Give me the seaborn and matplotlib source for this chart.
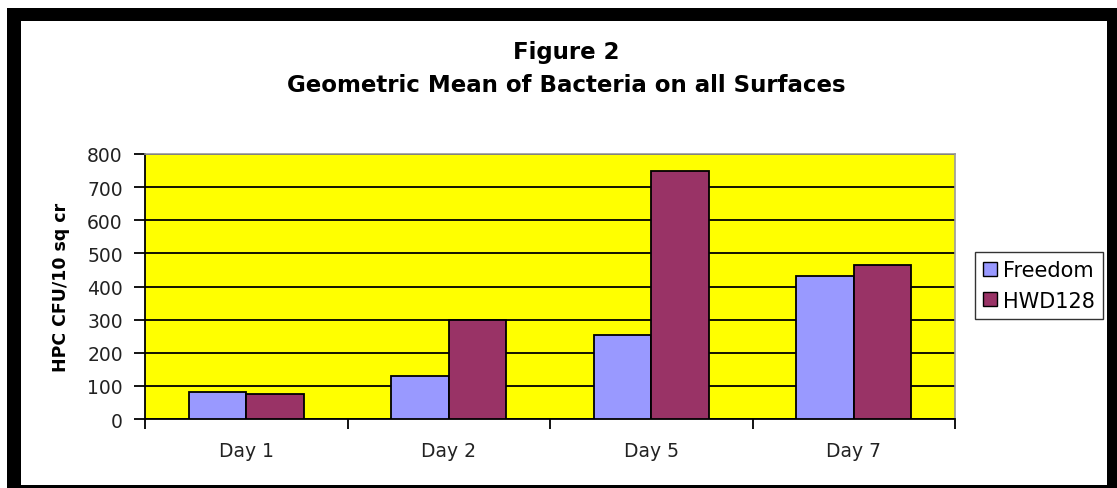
import matplotlib
matplotlib.use("Agg")
import matplotlib.pyplot as plt
import matplotlib.patches as mpatches
import seaborn as sns
import pandas as pd

days = ["Day 1", "Day 2", "Day 5", "Day 7"]
freedom = [82, 131, 255, 431]
hwd128 = [74, 298, 750, 466]
series_names = ["Freedom", "HWD128"]
colors = ["#9999FF", "#993366"]
yticks = [0, 100, 200, 300, 400, 500, 600, 700, 800]

df = pd.DataFrame({
    "Day": days * 2,
    "Value": freedom + hwd128,
    "Series": [series_names[0]] * len(days) + [series_names[1]] * len(days),
})

sns.set_style("white")
plt.rcParams["font.family"] = ["DejaVu Sans"]
plt.rcParams["text.color"] = "black"

W, H = 1117, 489
fig = plt.figure(figsize=(W / 100, H / 100), dpi=100, facecolor="white")

def px(x0, y0, x1, y1):
    # pixel box (top-left origin) -> figure fraction rect
    return (x0 / W, 1 - y1 / H, (x1 - x0) / W, (y1 - y0) / H)

# black frame
ox, oy, ow, oh = px(7, 9, 1125, 495)
fig.patches.append(mpatches.Rectangle((ox, oy), ow, oh, transform=fig.transFigure,
                                      facecolor="black", edgecolor="none", zorder=-10))
ix, iy, iw, ih = px(21, 22, 1107, 486)
fig.patches.append(mpatches.Rectangle((ix, iy), iw, ih, transform=fig.transFigure,
                                      facecolor="white", edgecolor="none", zorder=-9))

ax = fig.add_axes(px(145, 155, 955, 420))
ax.set_facecolor("#FFFF00")

sns.barplot(data=df, x="Day", y="Value", hue="Series", palette=colors,
            width=0.57, saturation=1, edgecolor="black", linewidth=1.3,
            ax=ax, zorder=3, legend=True)

ax.set_ylim(0, 800)
ax.set_xlim(-0.5, 3.5)
ax.set_yticks(yticks)
ax.set_yticklabels([str(v) for v in yticks], fontsize=13.5, color="#222222")
ax.yaxis.grid(True, color="black", linewidth=1.3, zorder=1)
ax.set_axisbelow(True)
ax.tick_params(axis="y", length=8, width=1.3, color="black", pad=8, left=True)

ax.set_xticks(range(len(days)))
ax.set_xticklabels(days, fontsize=13.5, color="#222222")
ax.tick_params(axis="x", which="major", length=0, pad=16)
ax.set_xticks([-0.5, 0.5, 1.5, 2.5, 3.5], minor=True)
ax.tick_params(axis="x", which="minor", length=7, width=1.3, color="black", bottom=True)

for s in ["left", "bottom"]:
    ax.spines[s].set_color("black")
    ax.spines[s].set_linewidth(1.3)
for s in ["top", "right"]:
    ax.spines[s].set_visible(True)
    ax.spines[s].set_color("#999999")
    ax.spines[s].set_linewidth(1.2)

ax.set_xlabel("")
ax.set_ylabel("HPC CFU/10 sq cr", fontsize=12.5, fontweight="bold", labelpad=12, color="black")

handles = [mpatches.Patch(facecolor=c, edgecolor="black", linewidth=1.0) for c in colors]
leg = ax.legend(handles, series_names, loc="upper left",
                bbox_to_anchor=(975 / W, 1 - 253 / H), bbox_transform=fig.transFigure,
                fontsize=15, frameon=True, fancybox=False, edgecolor="black",
                handlelength=0.65, handleheight=0.65, handletextpad=0.3,
                borderpad=0.4, labelspacing=0.5, borderaxespad=0)
leg.get_frame().set_linewidth(1.0)

fig.text(566 / W, 1 - 52 / H, "Figure 2", ha="center", va="center",
         fontsize=16.5, fontweight="bold", color="black")
fig.text(566 / W, 1 - 86 / H, "Geometric Mean of Bacteria on all Surfaces",
         ha="center", va="center", fontsize=16.5, fontweight="bold", color="black")

fig.savefig("out.png", dpi=100, facecolor="white")
